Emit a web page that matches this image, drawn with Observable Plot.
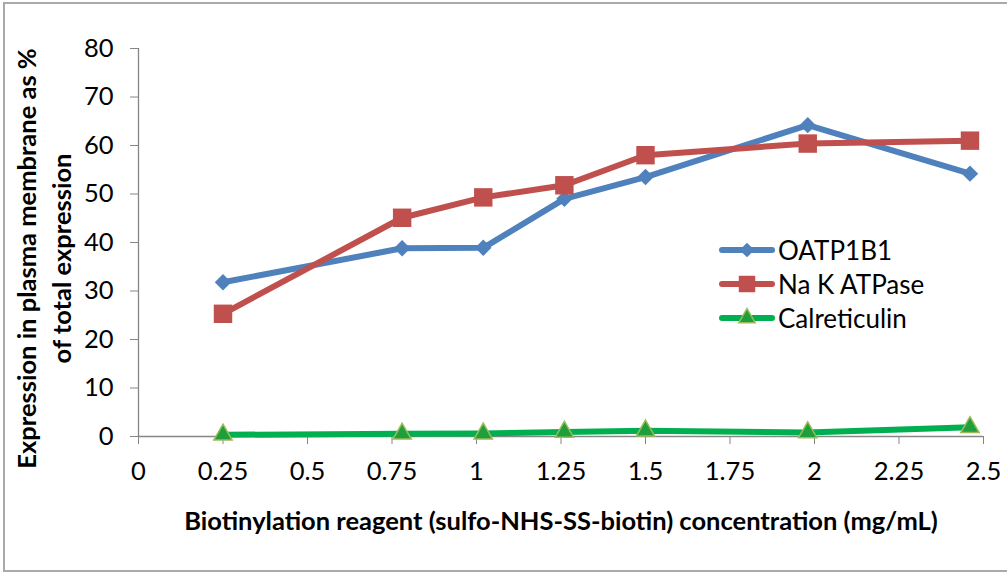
<!DOCTYPE html>
<html>
<head>
<meta charset="utf-8">
<script src="https://cdn.jsdelivr.net/npm/d3@7"></script>
<script src="https://cdn.jsdelivr.net/npm/@observablehq/plot@0.6"></script>
<style>
  html, body { margin: 0; padding: 0; background: #fff; }
  #chart { position: relative; width: 1007px; height: 575px; overflow: hidden; font-family: Lato, sans-serif; }
  #frame { position: absolute; left: 3px; top: 2px; width: 1012px; height: 570px; border: 2px solid #a9a9a9; box-sizing: border-box; }
  #plot { position: absolute; left: 0; top: 0; }
  #legend { position: absolute; left: 719px; top: 233px; font-size: 26px; color: #000; }
  #legend .row { display: flex; align-items: center; height: 34px; }
  #legend .row span { margin-left: 3px; }
</style>
</head>
<body>
<div id="chart"><div id="frame"></div><div id="plot"></div></div>
<script>
// Biotinylation reagent concentration (mg/mL)
const concentration = [0.25, 0.78, 1.02, 1.26, 1.5, 1.98, 2.46];
// Expression in plasma membrane as % of total expression
const oatp1b1      = [31.8, 38.8, 38.9, 49.0, 53.5, 64.2, 54.2];
const naKATPase    = [25.3, 45.1, 49.3, 51.8, 58.0, 60.4, 61.0];
const calreticulin = [0.35, 0.55, 0.6, 0.95, 1.2, 0.85, 1.9];

const seriesNames = ["OATP1B1", "Na K ATPase", "Calreticulin"];
const xTicks = [0, 0.25, 0.5, 0.75, 1, 1.25, 1.5, 1.75, 2, 2.25, 2.5];
const yTicks = [0, 10, 20, 30, 40, 50, 60, 70, 80];

const xTitle = "Biotinylation reagent (sulfo-NHS-SS-biotin) concentration (mg/mL)";
const yTitle = "Expression in plasma membrane as %\nof total expression";

const series = [
  {name: seriesNames[0], values: oatp1b1,      line: "#4f81bd", fill: "#4f81bd", stroke: "none",    strokeWidth: 0,   symbol: "diamond2", d3symbol: d3.symbolDiamond2, r: 7.4},
  {name: seriesNames[1], values: naKATPase,    line: "#c0504d", fill: "#c0504d", stroke: "none",    strokeWidth: 0,   symbol: "square",   d3symbol: d3.symbolSquare,   r: 10.4},
  {name: seriesNames[2], values: calreticulin, line: "#00b050", fill: "#1f9e3c", stroke: "#9bbb59", strokeWidth: 1.5, symbol: "triangle", d3symbol: d3.symbolTriangle, r: 6.8}
];

const rows = series.flatMap(s => concentration.map((c, i) => ({series: s.name, c, v: s.values[i]})));

const seriesMarks = series.flatMap(s => {
  const data = rows.filter(d => d.series === s.name);
  return [
    Plot.line(data, {x: "c", y: "v", stroke: s.line, strokeWidth: 6, strokeLinejoin: "round", strokeLinecap: "round"}),
    Plot.dot(data, {x: "c", y: "v", symbol: () => s.symbol, r: s.r, fill: s.fill, stroke: s.stroke, strokeWidth: s.strokeWidth})
  ];
});

const axisGray = "#868686";

const chart = Plot.plot({
  width: 1007,
  height: 575,
  marginLeft: 138,
  marginRight: 24,
  marginTop: 48,
  marginBottom: 139,
  style: {fontFamily: "Lato, sans-serif", fontSize: "25px", color: "#000", background: "transparent", overflow: "visible"},
  x: {domain: [0, 2.5]},
  y: {domain: [0, 80]},
  symbol: {type: "identity"},
  marks: [
    Plot.axisY({ticks: yTicks, tickSize: 8, tickPadding: 17, stroke: axisGray, fill: "#000", label: null, fontSize: 25.5}),
    Plot.axisX({ticks: xTicks, tickSize: 8, tickPadding: 17, stroke: axisGray, fill: "#000", label: null, fontSize: 25.5, tickFormat: d => String(d)}),
    Plot.ruleX([0], {stroke: axisGray, strokeWidth: 1.3}),
    Plot.ruleY([0], {stroke: axisGray, strokeWidth: 1.3}),
    ...seriesMarks,
    Plot.text([yTitle], {text: d => d, frameAnchor: "left", rotate: -90, dx: -96, dy: 16, fontWeight: "bold", fontSize: 25.5, lineHeight: 1.38, textAnchor: "middle", lineAnchor: "middle", fill: "#000"}),
    Plot.text([xTitle], {text: d => d, frameAnchor: "bottom", dy: 85, fontWeight: "bold", fontSize: 25.5, lineAnchor: "middle", fill: "#000"})
  ]
});
document.getElementById("plot").appendChild(chart);

// Legend with line-and-marker swatches
const legend = d3.select("#chart").append("div").attr("id", "legend");
series.forEach(s => {
  const row = legend.append("div").attr("class", "row");
  const svg = row.append("svg").attr("width", 56).attr("height", 34);
  svg.append("line")
    .attr("x1", 3).attr("x2", 53).attr("y1", 17).attr("y2", 17)
    .attr("stroke", s.line).attr("stroke-width", 6).attr("stroke-linecap", "round");
  svg.append("path")
    .attr("transform", "translate(28,17)")
    .attr("d", d3.symbol(s.d3symbol, s.r * s.r * Math.PI * 0.8)())
    .attr("fill", s.fill)
    .attr("stroke", s.stroke)
    .attr("stroke-width", s.strokeWidth);
  row.append("span").text(s.name);
});
</script>
</body>
</html>
